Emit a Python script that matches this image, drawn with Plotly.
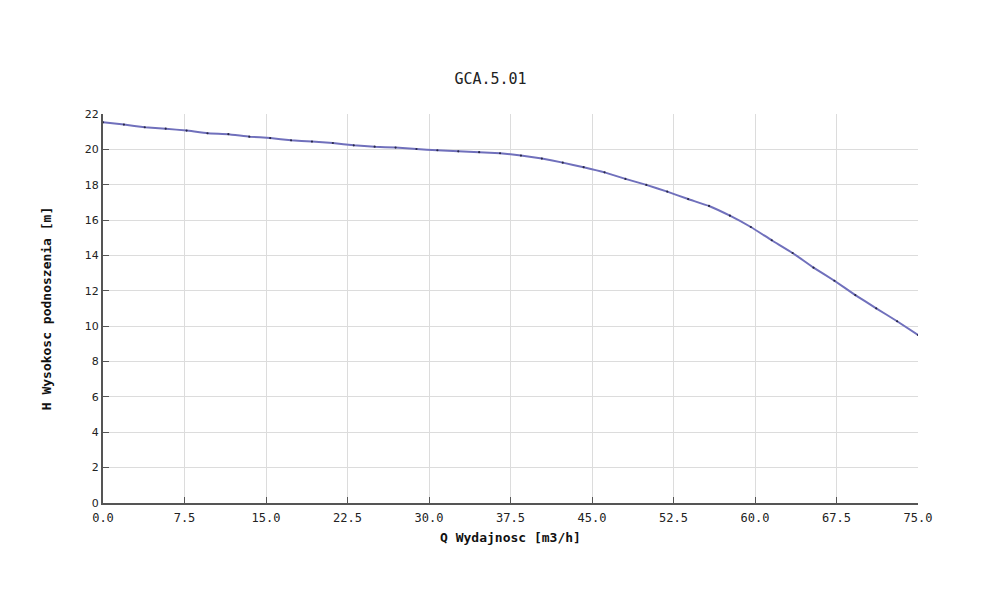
import numpy as np
import plotly.graph_objects as go

q_flow = [i * 75 / 39 for i in range(40)]
h_head = [21.53, 21.40, 21.25, 21.17, 21.06, 20.91, 20.86, 20.72, 20.64, 20.51,
          20.44, 20.36, 20.23, 20.15, 20.10, 20.02, 19.95, 19.89, 19.84, 19.78,
          19.65, 19.48, 19.25, 18.99, 18.70, 18.33, 17.99, 17.61, 17.19, 16.80,
          16.25, 15.61, 14.86, 14.14, 13.31, 12.57, 11.76, 11.01, 10.28, 9.50]

x_ticks = [0, 7.5, 15, 22.5, 30, 37.5, 45, 52.5, 60, 67.5, 75]
x_labels = ["0.0", "7.5", "15.0", "22.5", "30.0", "37.5", "45.0", "52.5", "60.0", "67.5", "75.0"]
y_ticks = list(range(0, 23, 2))

title_text = "GCA.5.01"
x_title = "Q Wydajnosc [m3/h]"
y_title = "H Wysokosc podnoszenia [m]"

mono = "DejaVu Sans Mono"

fig = go.Figure()
fig.add_trace(go.Scatter(
    x=q_flow, y=h_head, mode="lines",
    line=dict(color="#7070bc", width=2, shape="spline", smoothing=0.3),
    hoverinfo="skip", showlegend=False))
fig.add_trace(go.Scatter(
    x=q_flow, y=h_head, mode="markers",
    marker=dict(color="#282848", size=2.2, symbol="circle"),
    showlegend=False))

fig.update_layout(
    width=991, height=603,
    margin=dict(l=103, r=73, t=114, b=100, autoexpand=False),
    paper_bgcolor="white", plot_bgcolor="white",
    title=dict(text=title_text, x=0.495, xanchor="center", y=0.87, yanchor="middle",
               font=dict(family=mono, size=15, color="#222222")),
    xaxis=dict(
        range=[0, 75], tickmode="array", tickvals=x_ticks, ticktext=x_labels,
        showgrid=True, gridcolor="#dcdcdc", gridwidth=1,
        showline=True, linecolor="#555555", linewidth=2,
        ticks="inside", ticklen=6, tickcolor="#555555",
        tickfont=dict(family=mono, size=12, color="#222222"),
        ticklabelstandoff=3, automargin=False,
        title=dict(text="<b>" + x_title + "</b>", standoff=8,
                   font=dict(family=mono, size=13, color="#111111")),
        zeroline=False, fixedrange=True),
    yaxis=dict(
        range=[0, 22], tickmode="array", tickvals=y_ticks,
        showgrid=True, gridcolor="#dcdcdc", gridwidth=1,
        showline=True, linecolor="#555555", linewidth=2,
        ticks="inside", ticklen=6, tickcolor="#555555",
        tickfont=dict(family="DejaVu Sans", size=11, color="#222222"),
        automargin=False,
        title=dict(text="<b>" + y_title + "</b>", standoff=30,
                   font=dict(family=mono, size=13, color="#111111")),
        zeroline=False, fixedrange=True),
)

fig.write_html("out.html",
               config={"displayModeBar": False, "staticPlot": False},
               post_script="document.body.style.margin='0';document.body.style.overflow='hidden';")
